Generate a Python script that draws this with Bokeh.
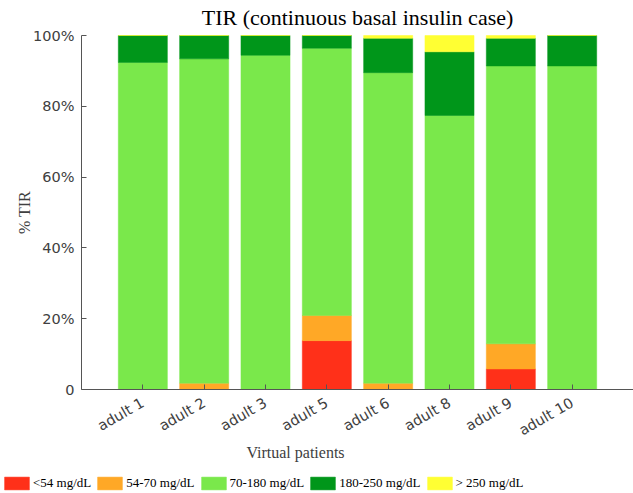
import math
from bokeh.plotting import figure
from bokeh.models import (ColumnDataSource, FixedTicker, Legend, LegendItem, Label, Range1d)
from bokeh.embed import file_html
from bokeh.resources import INLINE

# Time-in-range breakdown (% of time) per virtual patient
patients = ["adult 1", "adult 2", "adult 3", "adult 5", "adult 6", "adult 8", "adult 9", "adult 10"]
below_54 = [0.0, 0.0, 0.0, 13.8, 0.0, 0.0, 5.8, 0.0]
range_54_70 = [0.0, 1.8, 0.0, 7.1, 1.8, 0.0, 7.1, 0.0]
range_70_180 = [92.4, 91.6, 94.4, 75.5, 87.7, 77.4, 78.5, 91.4]
range_180_250 = [7.6, 6.6, 5.6, 3.6, 9.7, 18.0, 7.8, 8.6]
above_250 = [0.0, 0.0, 0.0, 0.0, 0.8, 4.6, 0.8, 0.0]

band_keys = ["b1", "b2", "b3", "b4", "b5"]
band_labels = ["<54 mg/dL", "54-70 mg/dL", "70-180 mg/dL", "180-250 mg/dL", "> 250 mg/dL"]
band_colors = ["#FF3019", "#FFA826", "#7AE84B", "#00961A", "#FFFF33"]
y_ticks = [0, 20, 40, 60, 80, 100]
y_tick_labels = ["0", "20%", "40%", "60%", "80%", "100%"]

pos = list(range(1, len(patients) + 1))
source = ColumnDataSource(dict(x=pos, b1=below_54, b2=range_54_70, b3=range_70_180,
                               b4=range_180_250, b5=above_250))

# Page geometry (pixels): the plotting box sits inside a full-canvas frame
W, H = 633, 493
BOX_L, BOX_R, BOX_T, BOX_B = 81, 633, 35, 389
X_MAX = len(patients) + 1
sx = (BOX_R - BOX_L) / X_MAX
sy = (BOX_B - BOX_T) / 100.0
x_range = Range1d(-BOX_L / sx, X_MAX + (W - BOX_R) / sx)
y_range = Range1d(-(H - BOX_B) / sy, 100 + BOX_T / sy)

p = figure(width=W, height=H, x_range=x_range, y_range=y_range,
           output_backend="svg", toolbar_location=None,
           min_border=0, min_border_left=0, min_border_right=0,
           min_border_top=0, min_border_bottom=0)

renderers = p.vbar_stack(band_keys, x="x", width=0.8, source=source,
                         fill_color=band_colors, line_color=band_colors, line_width=0.5)

p.outline_line_color = None
p.xgrid.visible = False
p.ygrid.visible = False

axis_color = "#555555"
label_color = "#404040"

xa = p.xaxis[0]
xa.fixed_location = 0
xa.bounds = (0, X_MAX)
xa.ticker = FixedTicker(ticks=pos)
xa.major_label_overrides = {i: name for i, name in zip(pos, patients)}
xa.major_label_orientation = math.radians(30)
xa.major_tick_in = 5
xa.major_tick_out = 0
xa.minor_tick_in = 0
xa.minor_tick_out = 0
xa.axis_line_color = axis_color
xa.major_tick_line_color = axis_color
xa.major_label_text_font = "DejaVu Sans"
xa.major_label_text_font_size = "14.5px"
xa.major_label_text_color = label_color
xa.major_label_standoff = 12

ya = p.yaxis[0]
ya.fixed_location = 0
ya.bounds = (0, 100)
ya.ticker = FixedTicker(ticks=y_ticks)
ya.major_label_overrides = {t: s for t, s in zip(y_ticks, y_tick_labels)}
ya.major_tick_in = 5
ya.major_tick_out = 0
ya.minor_tick_in = 0
ya.minor_tick_out = 0
ya.axis_line_color = axis_color
ya.major_tick_line_color = axis_color
ya.major_label_text_font = "DejaVu Sans"
ya.major_label_text_font_size = "14.5px"
ya.major_label_text_color = label_color
ya.major_label_standoff = 7
ya.axis_label = "% TIR"
ya.axis_label_text_font = "Liberation Serif"
ya.axis_label_text_font_size = "16px"
ya.axis_label_text_font_style = "normal"
ya.axis_label_text_color = label_color
ya.axis_label_standoff = -3

# Chart title and x-axis title
p.add_layout(Label(x=(BOX_L + BOX_R) / 2, y=H - 17, x_units="screen", y_units="screen",
                   text="TIR (continuous basal insulin case)", text_font="Liberation Serif",
                   text_font_size="22px", text_color="#000000",
                   text_align="center", text_baseline="middle"))
p.add_layout(Label(x=295, y=H - 452, x_units="screen", y_units="screen",
                   text="Virtual patients", text_font="Liberation Serif",
                   text_font_size="16px", text_color=label_color,
                   text_align="center", text_baseline="middle"))

legend = Legend(items=[LegendItem(label=lab, renderers=[r])
                       for lab, r in zip(band_labels, renderers)],
                orientation="horizontal", location=(1, 2),
                glyph_width=31, glyph_height=16, label_height=16, label_standoff=1,
                spacing=3, padding=0, margin=0,
                label_text_font="Liberation Serif", label_text_font_size="13px",
                label_text_color="#000000", border_line_color=None, background_fill_alpha=0)
p.add_layout(legend, "center")

open("out.html", "w").write(file_html(p, INLINE))
